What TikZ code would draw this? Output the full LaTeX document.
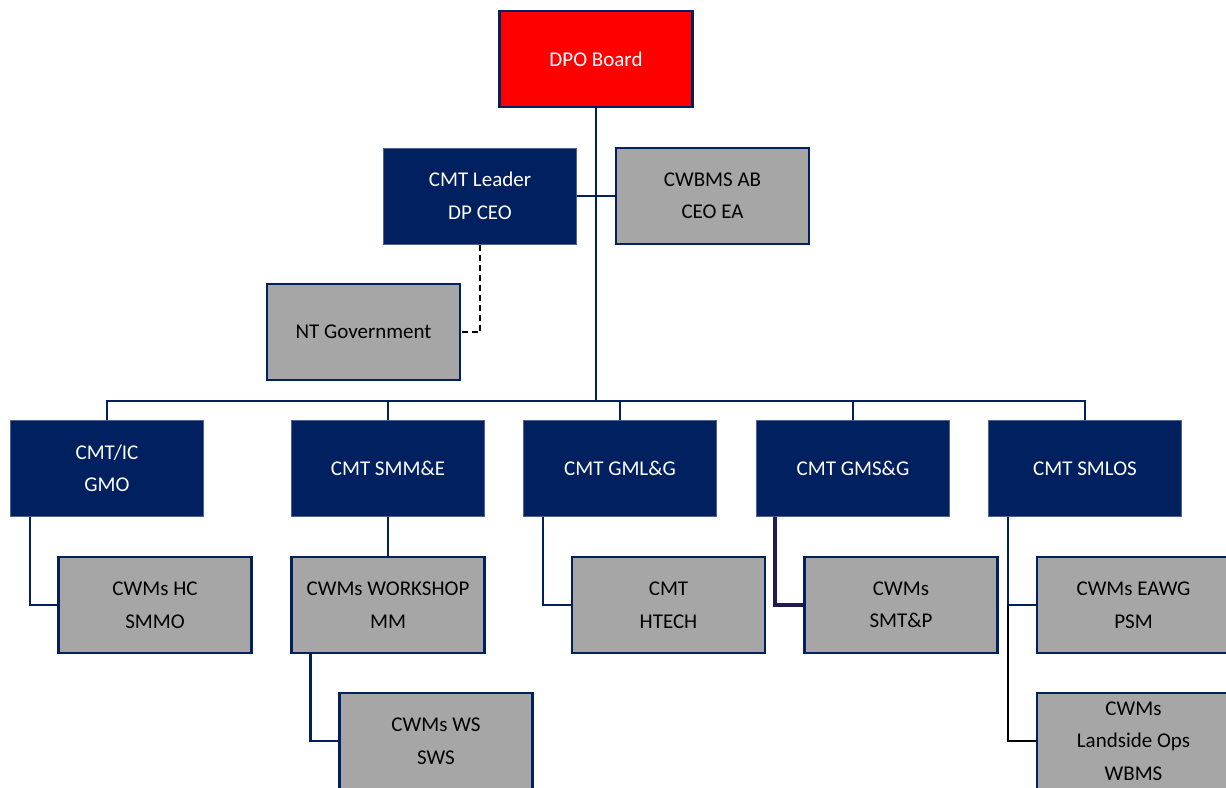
\documentclass[tikz,border=0pt]{standalone}
\usepackage{fontspec}
\setmainfont{Carlito}
\definecolor{navy}{HTML}{002060}
\definecolor{boxgray}{HTML}{A6A6A6}
\definecolor{dpored}{HTML}{FF0000}
\definecolor{purp}{HTML}{201A50}
\begin{document}
\begin{tikzpicture}[x=1pt,y=-1pt,
  box/.style={draw=navy,line width=2.2pt,minimum width=193pt,minimum height=96pt,inner sep=0pt,align=center,font=\fontsize{21}{32.5}\selectfont},
  navybox/.style={box,fill=navy,text=white,draw=navy!70!white,line width=1pt},
  graybox/.style={box,fill=boxgray,text=black},
  conn/.style={draw=navy,line width=2.4pt}]
\useasboundingbox (0,0) rectangle (1226,787);
\clip (0,0) rectangle (1226,787);
\node[box,fill=dpored,text=white] (dpo) at (596,59) {DPO Board};
\node[navybox] (leader) at (480,196) {CMT Leader\\DP CEO};
\node[graybox] (cwbms) at (712.5,196) {CWBMS AB\\CEO EA};
\node[graybox] (nt) at (363.5,332) {NT Government};
\coordinate (bus) at (596,401);
\node[navybox] (ic) at (107,468.5) {CMT/IC\\GMO};
\node[navybox] (smme) at (388,468.5) {CMT SMM\&E};
\node[navybox] (gmlg) at (620,468.5) {CMT GML\&G};
\node[navybox] (gmsg) at (853,468.5) {CMT GMS\&G};
\node[navybox] (smlos) at (1085,468.5) {CMT SMLOS};
\node[graybox] (hc) at (155,605) {CWMs HC\\SMMO};
\node[graybox] (wk) at (388,605) {CWMs WORKSHOP\\MM};
\node[graybox] (ht) at (668.5,605) {CMT\\HTECH};
\node[graybox] (smtp) at (901,605) {CWMs\\SMT\&P};
\node[graybox] (eawg) at (1133.5,605) {CWMs EAWG\\PSM};
\node[graybox] (ws) at (436,741) {CWMs WS\\SWS};
\node[graybox] (land) at (1133.5,741) {CWMs\\Landside Ops\\WBMS};
% connectors
\draw[conn] (dpo.south) -- (bus);
\draw[conn] (leader.east) -- (cwbms.west);
\draw[line width=1.5pt,dash pattern=on 6pt off 4pt] (leader.south) |- (nt.east);
\draw[conn] (ic.north) |- (bus) -| (smlos.north);
\draw[conn] (smme.north) -- (smme.north |- bus);
\draw[conn] (gmlg.north) -- (gmlg.north |- bus);
\draw[conn] (gmsg.north) -- (gmsg.north |- bus);
\draw[conn] ([xshift=20pt]ic.south west) |- (hc.west);
\draw[conn] (smme.south) -- (wk.north);
\draw[conn] ([xshift=20pt]wk.south west) |- (ws.west);
\draw[conn] ([xshift=20pt]gmlg.south west) |- (ht.west);
\draw[draw=purp,line width=3.2pt] ([xshift=19pt]gmsg.south west) |- (smtp.west);
\draw[conn] ([xshift=20pt]smlos.south west) |- (eawg.west);
\draw[line width=2.2pt] ([xshift=20pt]smlos.south west |- eawg.west) |- (land.west);
\end{tikzpicture}
\end{document}
